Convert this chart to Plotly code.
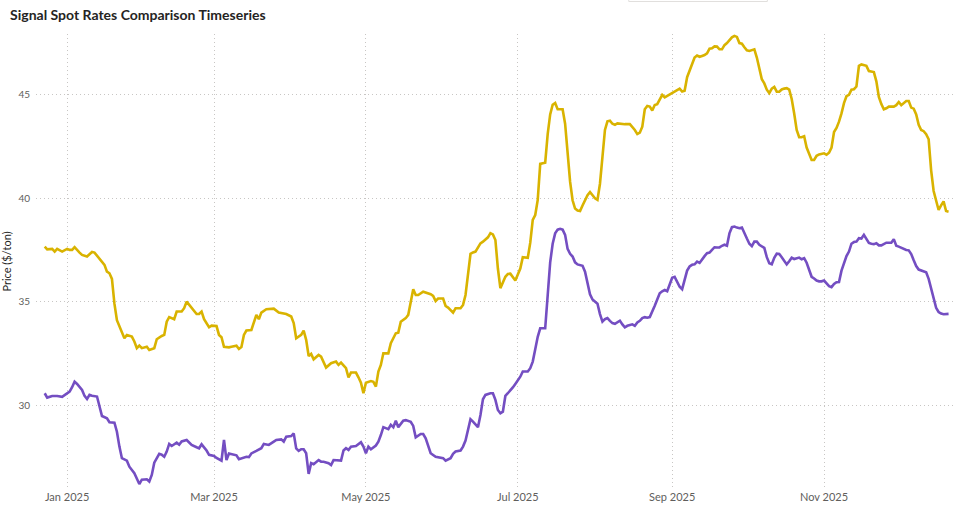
import pandas as pd
import plotly.graph_objects as go

base_date = "2025-01-01"

# Series A (gold) - day offsets from base_date and prices
day_a = [-9, -8, -6, -5, -4, -2, 0, 1, 2, 3, 5, 6, 8, 10, 11, 13, 15, 16, 17, 18,
         19, 20, 21, 22, 23, 24, 26, 27, 28, 29, 30, 32, 33, 35, 36, 38, 39, 40, 41, 43,
         44, 46, 47, 48, 50, 52, 53, 54, 55, 57, 58, 60, 61, 62, 63, 65, 66, 68, 69, 70,
         71, 72, 74, 75, 76, 77, 78, 80, 83, 85, 86, 88, 90, 91, 92, 94, 95, 96, 97, 98,
         99, 101, 102, 103, 104, 106, 108, 109, 110, 112, 113, 114, 116, 117, 118, 119, 120, 122, 123, 124,
         125, 126, 127, 129, 130, 132, 133, 134, 136, 137, 138, 139, 140, 141, 143, 144, 146, 147, 148, 149,
         151, 152, 153, 155, 156, 158, 159, 160, 161, 162, 163, 164, 166, 167, 169, 170, 171, 172, 173, 174,
         176, 177, 178, 180, 182, 183, 185, 186, 187, 188, 189, 190, 191, 192, 193, 194, 195, 196, 197, 198,
         199, 200, 201, 202, 203, 204, 205, 206, 207, 208, 209, 210, 211, 212, 213, 214, 215, 216, 217, 218,
         219, 220, 221, 222, 224, 226, 228, 229, 230, 231, 232, 233, 234, 235, 236, 237, 238, 239, 240, 241,
         242, 243, 244, 245, 246, 247, 248, 249, 250, 251, 252, 253, 254, 255, 256, 257, 258, 259, 260, 261,
         262, 263, 264, 265, 266, 267, 268, 269, 270, 271, 272, 273, 274, 275, 276, 277, 278, 279, 280, 281,
         282, 283, 284, 285, 286, 287, 288, 289, 290, 291, 292, 293, 294, 295, 296, 297, 298, 299, 300, 301,
         302, 303, 304, 305, 306, 307, 308, 309, 310, 311, 312, 313, 314, 315, 316, 317, 318, 319, 320, 321,
         322, 323, 324, 325, 326, 327, 328, 329, 330, 331, 332, 333, 334, 335, 336, 337, 338, 339, 340, 341,
         342, 343, 344, 345, 346, 347, 348, 349, 350, 351, 352, 353, 354]
price_a = [37.66, 37.53, 37.55, 37.42, 37.55, 37.42, 37.55, 37.50, 37.50, 37.63, 37.37, 37.26, 37.18, 37.40, 37.37, 37.10, 36.78, 36.45, 36.37, 36.10,
           34.90, 34.10, 33.79, 33.55, 33.23, 33.39, 33.31, 33.07, 32.75, 32.87, 32.75, 32.82, 32.66, 32.75, 33.18, 33.34, 33.39, 34.03, 34.25, 34.15,
           34.52, 34.52, 34.68, 35.00, 34.68, 34.40, 34.40, 34.52, 34.15, 33.76, 33.84, 33.82, 33.39, 33.28, 32.82, 32.79, 32.82, 32.87, 32.71, 32.80,
           33.39, 33.60, 33.63, 34.03, 34.36, 34.15, 34.47, 34.63, 34.66, 34.47, 34.44, 34.40, 34.28, 33.96, 33.23, 33.39, 33.60, 33.15, 32.37, 32.47,
           32.21, 32.42, 32.34, 32.05, 31.81, 32.02, 32.10, 31.94, 32.05, 31.78, 31.33, 31.57, 31.57, 31.34, 31.08, 30.57, 31.08, 31.16, 31.12, 30.89,
           31.62, 31.94, 32.50, 32.50, 32.99, 33.47, 33.50, 34.03, 34.20, 34.36, 34.92, 35.60, 35.32, 35.32, 35.48, 35.44, 35.36, 35.28, 35.03, 35.15,
           35.15, 34.79, 34.71, 34.47, 34.68, 34.68, 34.84, 35.32, 36.37, 37.31, 37.38, 37.42, 37.82, 37.90, 38.11, 38.31, 38.25, 37.98, 36.60, 35.65,
           36.20, 36.34, 36.35, 36.02, 36.60, 37.15, 37.12, 37.85, 38.95, 39.19, 39.92, 41.66, 41.69, 41.72, 43.10, 44.05, 44.52, 44.60, 44.30, 44.30,
           44.30, 43.60, 42.30, 40.80, 39.90, 39.50, 39.40, 39.38, 39.65, 39.90, 40.15, 40.30, 40.15, 40.00, 39.92, 40.70, 42.00, 43.30, 43.72, 43.75,
           43.60, 43.55, 43.62, 43.60, 43.58, 43.58, 43.30, 43.10, 43.17, 43.46, 44.30, 44.46, 44.43, 44.24, 44.51, 44.55, 44.80, 45.00, 44.88, 44.95,
           45.05, 45.10, 45.18, 45.25, 45.30, 45.16, 45.20, 45.85, 46.20, 46.45, 46.80, 46.90, 46.84, 46.88, 46.92, 47.00, 47.23, 47.25, 47.34, 47.33,
           47.20, 47.20, 47.40, 47.50, 47.63, 47.78, 47.85, 47.80, 47.50, 47.47, 47.30, 47.15, 47.12, 47.15, 47.20, 46.80, 46.20, 45.75, 45.55, 45.25,
           45.08, 45.30, 45.38, 45.15, 45.15, 45.26, 45.30, 45.32, 45.25, 44.80, 44.10, 43.30, 42.95, 42.95, 43.00, 42.45, 42.15, 41.85, 41.85, 42.05,
           42.12, 42.16, 42.17, 42.10, 42.20, 42.45, 43.20, 43.40, 43.70, 44.10, 44.60, 44.93, 45.00, 45.25, 45.27, 45.40, 46.40, 46.47, 46.42, 46.40,
           46.15, 46.13, 46.10, 45.65, 44.90, 44.55, 44.30, 44.35, 44.43, 44.43, 44.43, 44.50, 44.65, 44.50, 44.60, 44.70, 44.70, 44.38, 44.33, 44.05,
           43.55, 43.30, 43.24, 43.10, 42.85, 41.35, 40.35, 39.85, 39.43, 39.65, 39.85, 39.38, 39.35]

# Series B (purple)
day_b = [-9, -8, -6, -4, -2, 0, 1, 2, 3, 4, 6, 7, 8, 9, 10, 12, 13, 14, 16, 17,
         19, 20, 21, 22, 24, 25, 27, 28, 29, 30, 32, 33, 34, 35, 37, 38, 39, 40, 41, 42,
         44, 45, 46, 48, 50, 52, 53, 54, 56, 57, 59, 60, 62, 63, 64, 65, 66, 68, 69, 70,
         72, 73, 74, 76, 78, 79, 81, 83, 84, 86, 87, 88, 90, 91, 92, 93, 94, 95, 96, 97,
         98, 99, 101, 102, 103, 105, 106, 107, 108, 110, 111, 112, 113, 114, 116, 117, 118, 119, 120, 121,
         122, 124, 125, 126, 127, 129, 130, 131, 132, 133, 135, 136, 138, 139, 140, 142, 143, 144, 145, 146,
         148, 150, 151, 152, 154, 155, 156, 158, 159, 160, 161, 162, 163, 164, 165, 166, 167, 168, 170, 171,
         172, 173, 174, 175, 176, 177, 178, 179, 180, 181, 182, 183, 185, 186, 187, 188, 189, 190, 192, 193,
         194, 195, 196, 197, 198, 199, 200, 201, 202, 203, 204, 205, 207, 208, 209, 210, 211, 212, 213, 214,
         215, 216, 217, 218, 219, 220, 221, 222, 223, 224, 225, 226, 227, 228, 229, 230, 231, 232, 233, 234,
         235, 236, 237, 238, 239, 240, 241, 242, 243, 244, 245, 246, 247, 248, 249, 250, 251, 252, 253, 254,
         255, 256, 257, 258, 259, 260, 261, 262, 263, 264, 265, 266, 267, 268, 269, 270, 271, 272, 273, 274,
         275, 276, 277, 278, 279, 280, 281, 282, 283, 284, 285, 286, 287, 288, 289, 290, 291, 292, 293, 294,
         295, 296, 297, 298, 299, 300, 301, 302, 303, 304, 305, 306, 307, 308, 309, 310, 311, 312, 313, 314,
         315, 316, 317, 318, 319, 320, 321, 322, 323, 324, 325, 326, 327, 328, 329, 330, 331, 332, 333, 334,
         335, 336, 337, 338, 339, 340, 341, 342, 343, 344, 345, 346, 347, 348, 349, 350, 351, 352, 353, 354]
price_b = [30.57, 30.36, 30.44, 30.44, 30.40, 30.54, 30.65, 30.86, 31.13, 31.02, 30.73, 30.44, 30.29, 30.49, 30.45, 30.41, 29.92, 29.47, 29.36, 29.17,
           29.15, 28.71, 27.99, 27.43, 27.31, 27.02, 26.70, 26.41, 26.18, 26.39, 26.41, 26.30, 26.62, 27.21, 27.64, 27.60, 27.50, 27.75, 28.12, 28.02,
           28.18, 28.08, 28.24, 28.31, 28.07, 27.96, 27.91, 28.10, 27.80, 27.59, 27.54, 27.44, 27.31, 28.31, 27.34, 27.66, 27.63, 27.57, 27.38, 27.43,
           27.50, 27.48, 27.66, 27.78, 27.91, 28.12, 28.07, 28.23, 28.31, 28.34, 28.23, 28.47, 28.50, 28.63, 27.90, 27.78, 27.86, 27.86, 27.67, 26.67,
           27.19, 27.14, 27.34, 27.26, 27.26, 27.19, 27.10, 27.34, 27.34, 27.31, 27.80, 27.91, 27.83, 27.99, 28.02, 28.10, 28.20, 27.99, 27.67, 27.99,
           27.86, 28.04, 28.23, 28.55, 28.93, 28.83, 29.04, 28.93, 29.24, 28.93, 29.24, 29.27, 29.19, 28.99, 28.44, 28.60, 28.60, 28.39, 27.99, 27.67,
           27.50, 27.43, 27.43, 27.31, 27.43, 27.64, 27.75, 27.80, 27.99, 28.28, 28.80, 29.31, 29.20, 29.04, 28.93, 29.52, 30.28, 30.49, 30.57, 30.57,
           30.25, 29.76, 29.60, 29.68, 30.44, 30.57, 30.70, 30.85, 31.02, 31.20, 31.37, 31.62, 31.62, 31.78, 32.10, 32.70, 33.30, 33.71, 33.71, 35.30,
           36.90, 37.80, 38.30, 38.48, 38.52, 38.48, 38.23, 37.55, 37.31, 37.18, 36.90, 36.80, 36.73, 36.45, 35.95, 35.35, 35.10, 35.00, 34.90, 34.40,
           34.03, 34.15, 34.20, 34.07, 33.96, 33.93, 34.00, 34.08, 33.90, 33.76, 33.83, 33.88, 33.90, 33.83, 33.99, 34.07, 34.20, 34.25, 34.22, 34.25,
           34.50, 34.80, 35.10, 35.40, 35.50, 35.56, 35.50, 35.80, 36.15, 36.20, 35.95, 35.72, 35.60, 36.00, 36.50, 36.70, 36.78, 36.80, 36.93, 36.87,
           37.05, 37.20, 37.34, 37.37, 37.50, 37.63, 37.62, 37.62, 37.70, 37.75, 37.70, 38.30, 38.60, 38.63, 38.58, 38.55, 38.58, 38.27, 38.05, 37.80,
           37.68, 37.90, 37.90, 37.75, 37.68, 37.60, 37.15, 36.86, 36.81, 37.12, 37.32, 37.30, 37.15, 37.00, 36.80, 36.95, 37.12, 37.06, 37.10, 37.13,
           37.05, 37.10, 36.88, 36.50, 36.20, 36.12, 36.02, 35.98, 35.98, 36.02, 35.90, 35.75, 35.70, 35.85, 35.94, 35.95, 36.50, 36.88, 37.20, 37.42,
           37.80, 37.88, 37.90, 38.07, 38.05, 38.23, 38.05, 37.84, 37.80, 37.78, 37.82, 37.72, 37.72, 37.78, 37.85, 37.85, 37.85, 38.02, 37.70, 37.66,
           37.60, 37.53, 37.50, 37.48, 37.30, 37.00, 36.72, 36.55, 36.50, 36.48, 36.42, 36.10, 35.65, 35.10, 34.70, 34.50, 34.42, 34.39, 34.40, 34.41]

x_ticks = ["2025-01-01", "2025-03-01", "2025-05-01", "2025-07-01", "2025-09-01", "2025-11-01"]
x_tick_labels = ["Jan 2025", "Mar 2025", "May 2025", "Jul 2025", "Sep 2025", "Nov 2025"]
y_ticks = [30, 35, 40, 45]
x_range = ["2024-12-19 12:00", "2025-12-23 14:00"]
y_range = [25.94, 47.94]

base = pd.Timestamp(base_date)
dates_a = base + pd.to_timedelta(day_a, unit="D")
dates_b = base + pd.to_timedelta(day_b, unit="D")

fig = go.Figure()
fig.add_trace(go.Scatter(x=dates_a, y=price_a, mode="lines", name="Signal A",
                         line=dict(color="#D9B300", width=2.6)))
fig.add_trace(go.Scatter(x=dates_b, y=price_b, mode="lines", name="Signal B",
                         line=dict(color="#744EC2", width=2.6)))

grid = "#C8C6C4"
fig.update_layout(
    width=960, height=508, autosize=False,
    margin=dict(l=33, r=5, t=34, b=19),
    paper_bgcolor="white", plot_bgcolor="white",
    showlegend=False,
    title=dict(text="<b>Signal Spot Rates Comparison Timeseries</b>",
               x=0.0105, xanchor="left", xref="container",
               y=0.970, yanchor="middle", yref="container",
               font=dict(family="Lato", size=14, color="#252423")),
    font=dict(family="Lato", size=11, color="#605E5C"),
)
fig.update_xaxes(range=x_range, tickvals=x_ticks, ticktext=x_tick_labels,
                 showgrid=True, gridcolor=grid, griddash="1px,3px", gridwidth=1,
                 zeroline=False, showline=False, ticks="",
                 tickfont=dict(family="Lato", size=11, color="#605E5C"))
fig.update_yaxes(range=y_range, tickvals=y_ticks,
                 showgrid=True, gridcolor=grid, griddash="1px,3px", gridwidth=1,
                 zeroline=False, showline=False, ticks="",
                 tickfont=dict(family="Lato", size=10, color="#605E5C"),
                 ticklabelstandoff=5,
                 title=dict(text="Price ($/ton)", standoff=6,
                            font=dict(family="Lato", size=11, color="#252423")))

# partially visible box at top edge
fig.add_shape(type="rect", xref="paper", yref="paper",
              x0=0.645, x1=0.7958, y0=1.0714, y1=1.09,
              line=dict(color="#E1DFDD", width=1), fillcolor="rgba(0,0,0,0)")

fig.write_html("out.html", config={"displayModeBar": False},
               post_script="document.body.style.margin='0';")
